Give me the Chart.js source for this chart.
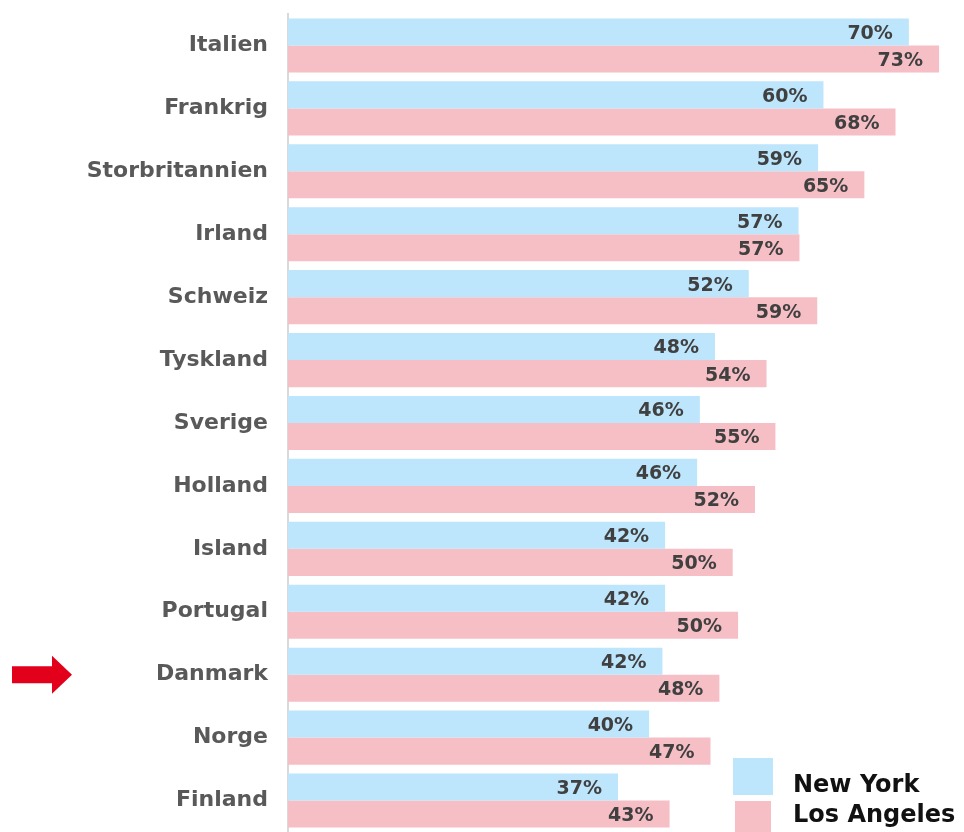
<!DOCTYPE html>
<html>
<head>
<meta charset="utf-8">
<title>New York / Los Angeles</title>
<script src="https://cdn.jsdelivr.net/npm/chart.js@4.4.1/dist/chart.umd.min.js"></script>
<style>
  body { margin: 0; background: #fff; font-family: "DejaVu Sans", sans-serif; }
  #wrap { position: relative; width: 964px; height: 832px; overflow: hidden; }
  #legend { position: absolute; left: 733px; top: 758px; }
  #legend .box { position: absolute; }
  #legend .txt { position: absolute; left: 60px; font-weight: 700; font-size: 24px; line-height: 25px; color: #111; white-space: nowrap; }
</style>
</head>
<body>
<div id="wrap">
  <canvas id="chart" width="964" height="832"></canvas>
  <div id="legend"></div>
</div>
<script>
// data
var countries = ["Italien", "Frankrig", "Storbritannien", "Irland", "Schweiz", "Tyskland", "Sverige",
                 "Holland", "Island", "Portugal", "Danmark", "Norge", "Finland"];
var newYork    = [69.8, 60.2, 59.6, 57.4, 51.8, 48.0, 46.3, 46.0, 42.4, 42.4, 42.1, 40.6, 37.1];
var losAngeles = [73.2, 68.3, 64.8, 57.5, 59.5, 53.8, 54.8, 52.5, 50.0, 50.6, 48.5, 47.5, 42.9];
var newYorkLabels    = ["70%", "60%", "59%", "57%", "52%", "48%", "46%", "46%", "42%", "42%", "42%", "40%", "37%"];
var losAngelesLabels = ["73%", "68%", "65%", "57%", "59%", "54%", "55%", "52%", "50%", "50%", "48%", "47%", "43%"];
var seriesNames  = ["New York", "Los Angeles"];
var seriesColors = ["#bde5fc", "#f6bfc6"];
var markedCountry = "Danmark";

// percent labels just inside the end of each bar
var barLabels = {
    id: 'barLabels',
    afterDatasetsDraw: function(chart) {
        var ctx = chart.ctx;
        ctx.save();
        ctx.font = 'bold 19px "DejaVu Sans"';
        ctx.fillStyle = '#404040';
        ctx.textAlign = 'right';
        ctx.textBaseline = 'middle';
        chart.data.datasets.forEach(function(ds, i) {
            chart.getDatasetMeta(i).data.forEach(function(bar, j) {
                ctx.fillText(ds.valueLabels[j], bar.x - 16, bar.y + 2);
            });
        });
        ctx.restore();
    }
};

// red arrow pointing at Danmark
var arrowMark = {
    id: 'arrowMark',
    afterDraw: function(chart) {
        var idx = countries.indexOf(markedCountry);
        if (idx < 0) return;
        var y = chart.scales.y.getPixelForValue(idx);
        var ctx = chart.ctx;
        ctx.save();
        ctx.fillStyle = '#e2001a';
        ctx.beginPath();
        ctx.moveTo(12, y - 8.5);
        ctx.lineTo(52, y - 8.5);
        ctx.lineTo(52, y - 19);
        ctx.lineTo(72, y);
        ctx.lineTo(52, y + 19);
        ctx.lineTo(52, y + 8.5);
        ctx.lineTo(12, y + 8.5);
        ctx.closePath();
        ctx.fill();
        ctx.restore();
    }
};

function drawGraph() {
    var chart = new Chart(document.getElementById('chart'), {
        type: 'bar',
        data: {
            labels: countries,
            datasets: [
                { label: seriesNames[0], data: newYork, valueLabels: newYorkLabels, backgroundColor: seriesColors[0] },
                { label: seriesNames[1], data: losAngeles, valueLabels: losAngelesLabels, backgroundColor: seriesColors[1] }
            ]
        },
        options: {
            indexAxis: 'y',
            responsive: false,
            animation: false,
            layout: { padding: { top: 14, right: 0, bottom: 0, left: 0 } },
            datasets: { bar: { categoryPercentage: 0.86, barPercentage: 1.0 } },
            plugins: {
                legend: { display: false },
                tooltip: { enabled: false }
            },
            scales: {
                x: { display: false, min: 0, max: 76 },
                y: {
                    grid: { display: false, drawTicks: false },
                    border: { display: true, color: '#d9d9d9', width: 2 },
                    ticks: {
                        padding: 20,
                        color: '#595959',
                        font: { family: '"DejaVu Sans"', size: 22, weight: 'bold' }
                    },
                    afterFit: function(scale) {
                        scale.width = 288;
                        scale.paddingTop = 0;
                        scale.paddingBottom = 0;
                    }
                }
            }
        },
        plugins: [barLabels, arrowMark]
    });
    buildLegend(chart);
}

function buildLegend(chart) {
    var el = document.getElementById('legend');
    var html = '';
    chart.data.datasets.forEach(function(ds, i) {
        var top = i * 43;
        html += '<div class="box" style="top:' + top + 'px;left:' + (i * 2) + 'px;width:' + (40 - i * 4) + 'px;height:' + (37 - i * 6) + 'px;background:' + ds.backgroundColor + '"></div>';
        html += '<div class="txt" style="top:' + (14 + i * 30) + 'px">' + ds.label + '</div>';
    });
    el.innerHTML = html;
}

drawGraph();
</script>
</body>
</html>
